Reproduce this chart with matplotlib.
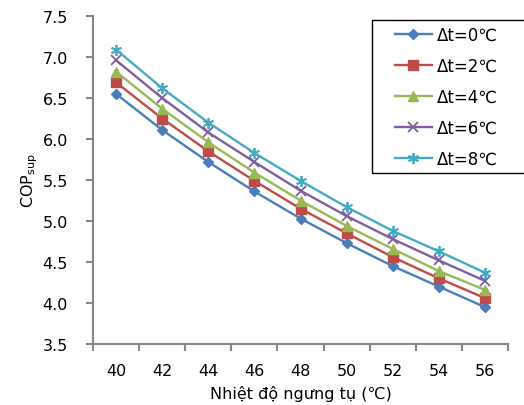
import matplotlib
matplotlib.use('Agg')
import matplotlib.pyplot as plt
from matplotlib.patches import Rectangle
import numpy as np

temps = [40, 42, 44, 46, 48, 50, 52, 54, 56]
cop_dt0 = [6.55, 6.11, 5.72, 5.36, 5.03, 4.73, 4.45, 4.20, 3.95]
cop_dt2 = [6.69, 6.25, 5.85, 5.49, 5.15, 4.85, 4.56, 4.30, 4.06]
cop_dt4 = [6.82, 6.37, 5.96, 5.59, 5.25, 4.94, 4.66, 4.39, 4.16]
cop_dt6 = [6.96, 6.50, 6.08, 5.72, 5.37, 5.06, 4.78, 4.52, 4.27]
cop_dt8 = [7.09, 6.62, 6.20, 5.83, 5.49, 5.17, 4.88, 4.63, 4.37]
labels = ['Δt=0℃', 'Δt=2℃', 'Δt=4℃', 'Δt=6℃', 'Δt=8℃']

series = [cop_dt0, cop_dt2, cop_dt4, cop_dt6, cop_dt8]
colors = ['#4A7EBB', '#BE4B48', '#98B954', '#7D5FA0', '#46AAC5']
markers = ['D', 's', '^', 'x', (6, 2, 0)]
sizes = [5.5, 7, 7, 7, 8]

W, H = 524, 406
plt.rcParams['font.family'] = ['DejaVu Sans']
fig = plt.figure(figsize=(W / 100, H / 100), dpi=100)
ax = fig.add_axes([93 / W, 1 - 345 / H, 415 / W, 328 / H])

x = np.arange(len(temps))
handles = []
for vals, lab, c, m, s in zip(series, labels, colors, markers, sizes):
    ln, = ax.plot(x, vals, color=c, lw=1.7, marker=m, ms=s,
                  mew=1.3 if m in ('x', (6, 2, 0)) else 1, label=lab)
    handles.append(ln)

ax.set_xlim(-0.5, len(temps) - 0.5)
ax.set_ylim(3.5, 7.5)
yt = np.arange(3.5, 7.51, 0.5)
ax.set_yticks(yt)
ax.set_yticklabels(['%.1f' % v for v in yt])
# category boundaries get the tick marks, labels sit between them
ax.set_xticks(np.arange(-0.5, len(temps), 1.0))
ax.set_xticklabels([])
ax.set_xticks(x, minor=True)
ax.set_xticklabels([str(t) for t in temps], minor=True)
ax.tick_params(axis='both', which='major', length=5, width=1.5, color='#868686',
               labelsize=11.5, direction='out')
ax.tick_params(axis='y', which='major', pad=13)
ax.tick_params(axis='x', which='minor', length=0, pad=13.5, labelsize=11.5)

for side in ('top', 'right'):
    ax.spines[side].set_visible(False)
for side in ('left', 'bottom'):
    ax.spines[side].set_color('#868686')
    ax.spines[side].set_linewidth(1.5)

ax.set_ylabel('COP$_{\\mathregular{sup}}$', fontsize=11.5, labelpad=2)
ax.set_xlabel('Nhiệt độ ngưng tụ (℃)', fontsize=11.5, labelpad=5)

# legend box runs off the right edge of the figure
frame = Rectangle((372 / W, 1 - 174 / H), 170 / W, 153 / H, transform=fig.transFigure,
                  facecolor='white', edgecolor='black', lw=1.0, clip_on=False, zorder=5)
fig.patches.append(frame)
leg = fig.legend(handles, labels, loc='upper left', bbox_to_anchor=(395 / W, 1 - 27 / H),
                 fontsize=12, frameon=False, handlelength=2.2, handletextpad=0.3,
                 labelspacing=0.77, borderpad=0, borderaxespad=0)
leg.set_zorder(6)

fig.savefig('out.png', dpi=100)
